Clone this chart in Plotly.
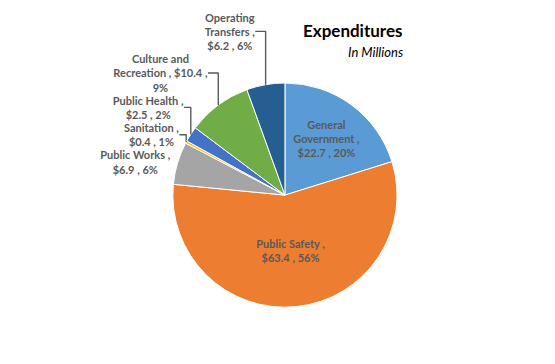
import plotly.graph_objects as go

categories = ["General Government", "Public Safety", "Public Works", "Sanitation",
              "Public Health", "Culture and Recreation", "Operating Transfers"]
values = [22.7, 63.4, 6.9, 0.4, 2.5, 10.4, 6.2]
percent_labels = [20, 56, 6, 1, 2, 9, 6]
colors = ["#5B9BD5", "#ED7D31", "#A5A5A5", "#FFC000", "#4472C4", "#70AD47", "#255E91"]

texts = [
    f"General<br>Government ,<br>${values[0]} , {percent_labels[0]}%",
    f"Public Safety ,<br>${values[1]} , {percent_labels[1]}%",
    f"Public Works ,<br>${values[2]} , {percent_labels[2]}%",
    f"Sanitation ,<br>${values[3]} , {percent_labels[3]}%",
    f"Public Health ,<br>${values[4]} , {percent_labels[4]}%",
    f"Culture and<br>Recreation , ${values[5]} ,<br>{percent_labels[5]}%",
    f"Operating<br>Transfers ,<br>${values[6]} , {percent_labels[6]}%",
]
positions = ["inside", "inside", "outside", "outside", "outside", "outside", "outside"]

fig = go.Figure(go.Pie(
    labels=categories, values=values, text=texts,
    texttemplate="<b>%{text}</b>", textposition=positions,
    sort=False, direction="clockwise", rotation=0,
    marker=dict(colors=colors, line=dict(color="white", width=1)),
    textfont=dict(family="Lato", size=11, color="#595959"),
    insidetextorientation="horizontal",
    automargin=False,
    showlegend=False, hoverinfo="label+value",
    domain=dict(x=[0.297, 0.701], y=[0.178, 0.794]),
))

fig.add_annotation(x=0.715, y=0.937, xref="paper", yref="paper", showarrow=False,
                   yanchor="middle",
                   text="<b>Expenditures</b>", font=dict(family="Lato", size=17, color="black"))
fig.add_annotation(x=0.715, y=0.879, xref="paper", yref="paper", showarrow=False,
                   yanchor="middle",
                   text="<i>In Millions</i>", font=dict(family="Lato", size=13, color="black"))

fig.update_layout(width=555, height=364, margin=dict(l=0, r=0, t=0, b=0, autoexpand=False),
                  paper_bgcolor="white", plot_bgcolor="white")
fig.write_html("out.html")
